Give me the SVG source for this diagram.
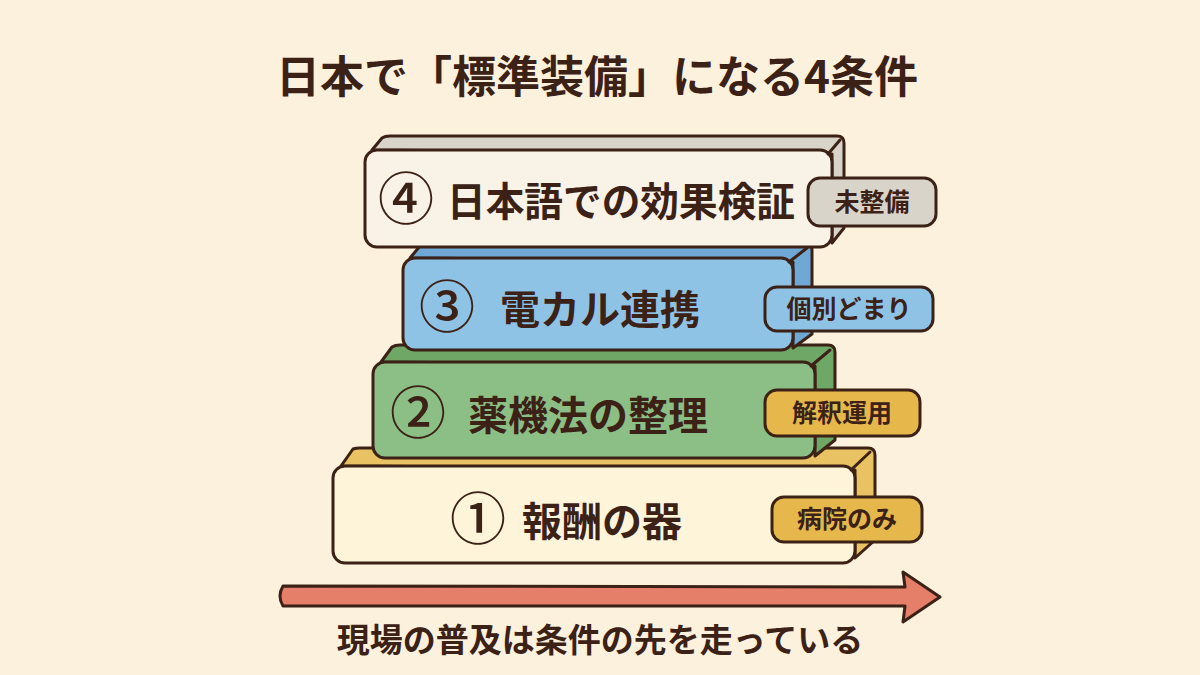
<svg xmlns="http://www.w3.org/2000/svg" width="1200" height="675" viewBox="0 0 1200 675">
<style>
.ol{stroke:#3b2116;stroke-width:3;stroke-linejoin:round;stroke-linecap:round}
.t{font-family:"Noto Sans CJK JP","Noto Sans",sans-serif;font-weight:700;fill:#3b2116}
.lbl{font-size:40px}
.num{font-size:56px;text-anchor:middle;font-weight:500}
.tag{font-size:25px;text-anchor:middle;font-weight:700}
</style>
<rect width="1200" height="675" fill="#fbf1dc"/>
<text class="t" x="597" y="93" font-size="44" text-anchor="middle">日本で「標準装備」になる4条件</text>

<g id="block1">
<path class="ol" d="M341,466 L353,449 Q356,448 360,448 L868,448 Q875,448 875,455 L875,540 L855,558 L855,470 Z" fill="#e9c263"/>
<rect class="ol" x="333" y="466" width="522" height="97" rx="12" fill="#fdf4d9"/>
<path class="ol" d="M851,470 L870,452" fill="none"/>
<text class="t num" x="478" y="539">①</text>
<text class="t lbl" x="522" y="536">報酬の器</text>
<rect class="ol" x="772" y="497" width="150" height="45" rx="12" fill="#e6b84c"/>
<text class="t tag" x="847" y="528">病院のみ</text>
</g>

<g id="block2">
<path class="ol" d="M381,362 L392,347 Q395,345 400,345 L828,345 Q835,345 835,352 L835,440 L815,456 L815,366 Z" fill="#6ea766"/>
<rect class="ol" x="373" y="362" width="442" height="96" rx="12" fill="#8cbf85"/>
<path class="ol" d="M811,366 L830,350" fill="none"/>
<text class="t num" x="418" y="433">②</text>
<text class="t lbl" x="468" y="430">薬機法の整理</text>
<rect class="ol" x="765" y="390" width="155" height="46" rx="12" fill="#e6b84c"/>
<text class="t tag" x="842" y="422">解釈運用</text>
</g>

<g id="block3">
<path class="ol" d="M410,258 L420,246 Q423,244 428,244 L806,244 Q812,244 812,250 L812,334 L793,348 L793,262 Z" fill="#6fa8d4"/>
<rect class="ol" x="403" y="258" width="390" height="92" rx="12" fill="#8fc3e6"/>
<path class="ol" d="M789,262 L807,248" fill="none"/>
<text class="t num" x="447" y="327">③</text>
<text class="t lbl" x="500" y="324">電カル連携</text>
<rect class="ol" x="765" y="287" width="168" height="44" rx="12" fill="#8fc3e6"/>
<text class="t tag" x="849" y="318">個別どまり</text>
</g>

<g id="block4">
<path class="ol" d="M372,150 L382,138 Q385,136 390,136 L837,136 Q844,136 844,143 L844,228 L832,243 L832,154 Z" fill="#d9d4ca"/>
<rect class="ol" x="365" y="150" width="467" height="97" rx="12" fill="#f8f3e6"/>
<path class="ol" d="M828,154 L840,140" fill="none"/>
<text class="t num" x="406" y="219">④</text>
<text class="t lbl" x="447" y="216" font-size="38" textLength="348" lengthAdjust="spacingAndGlyphs">日本語での効果検証</text>
<rect class="ol" x="808" y="178" width="128" height="48" rx="12" fill="#d9d4ca"/>
<text class="t tag" x="872" y="211">未整備</text>
</g>

<g id="connectors">
<path class="ol" d="M283,586 L905,587 L903,572 L940,597 L903,622 L905,606 L283,606 Q277,596 283,586 Z" fill="#e57f6a"/>
</g>
<text class="t" x="600" y="652" font-size="33" text-anchor="middle">現場の普及は条件の先を走っている</text>
</svg>
